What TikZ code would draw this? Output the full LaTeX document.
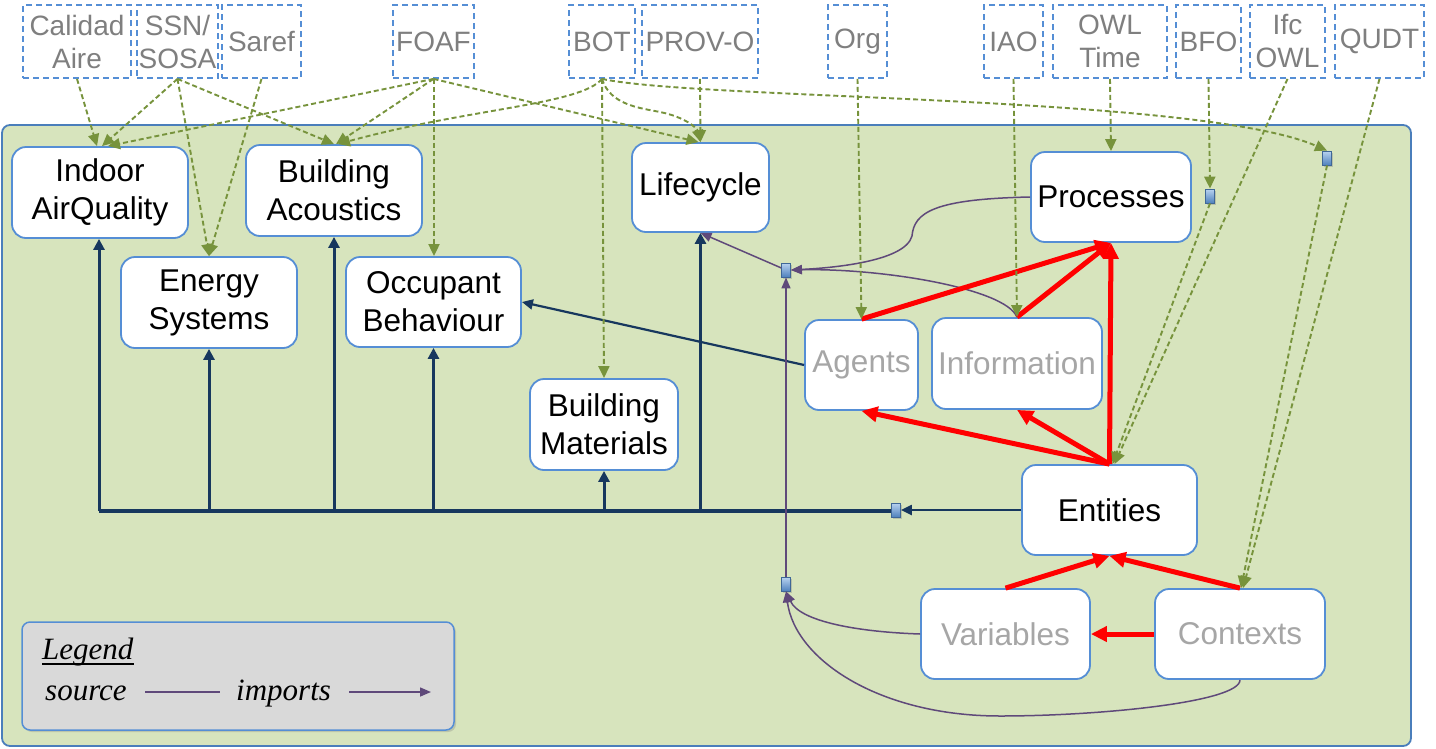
\documentclass[tikz,border=0pt]{standalone}
\usepackage{fontspec}
\setmainfont{Liberation Sans}
\newfontfamily\serifit{Liberation Serif}
\usetikzlibrary{arrows.meta,calc,shadows}
\definecolor{gfill}{HTML}{D7E4BD}
\definecolor{bborder}{HTML}{4A7EBB}
\definecolor{nborder}{HTML}{558ED5}
\definecolor{gdash}{HTML}{77933C}
\definecolor{navy}{HTML}{17375E}
\definecolor{purp}{HTML}{5F497A}
\definecolor{tgray}{HTML}{7F7F7F}
\definecolor{lgray}{HTML}{A6A6A6}
\definecolor{legfill}{HTML}{D9D9D9}
\definecolor{jtop}{HTML}{B9D3F0}
\definecolor{jbot}{HTML}{4F81BD}
\tikzset{
 mbox/.style={draw=nborder, line width=1.8pt, fill=white, rounded corners=14pt, align=center, inner sep=0pt, font=\fontsize{31.5}{38}\selectfont},
 gbox/.style={mbox, text=lgray},
 onto/.style={draw=nborder, line width=1.8pt, dash pattern=on 6pt off 4pt, align=center, inner sep=0pt, minimum height=73pt, text=tgray, font=\fontsize{28}{33}\selectfont},
 junc/.style={draw=jbot!80!black, line width=0.8pt, top color=jtop, bottom color=jbot, minimum width=9pt, minimum height=14pt, inner sep=0pt, drop shadow={opacity=0.35, shadow xshift=1pt, shadow yshift=-1.5pt}},
 gar/.style={draw=gdash, line width=1.9pt, dash pattern=on 5pt off 3pt, -{Triangle[length=12pt,width=11pt]}},
 nar/.style={draw=navy, line width=3pt, -{Triangle[length=11pt,width=11pt]}},
 nthin/.style={draw=navy, line width=2.2pt, -{Triangle[length=11pt,width=10pt]}},
 par/.style={draw=purp, line width=1.5pt, -{Triangle[length=11pt,width=9pt]}},
 pline/.style={draw=purp, line width=1.5pt},
 rar/.style={draw=red, line width=5pt, -{Triangle[length=16pt,width=15pt]}},
 legtext/.style={font=\serifit\itshape\fontsize{31}{36}\selectfont, inner sep=0pt}
}
\begin{document}
\begin{tikzpicture}[x=1pt,y=-1pt]
\useasboundingbox (0,0) rectangle (1436,748);
\fill[white] (0,0) rectangle (1436,748);
% main green area
\draw[fill=gfill, draw=bborder, line width=1.8pt, rounded corners=8pt] (2,125) rectangle (1411,746);

% top ontology boxes
\node[onto, minimum width=108pt] (cal) at (77,41.5) {Calidad\\Aire};
\node[onto, minimum width=81pt] (ssn) at (177.5,41.5) {SSN/\\SOSA};
\node[onto, minimum width=79pt] (sar) at (261.5,41.5) {Saref};
\node[onto, minimum width=81pt] (foa) at (433.5,41.5) {FOAF};
\node[onto, minimum width=66pt] (bot) at (602,41.5) {BOT};
\node[onto, minimum width=116pt] (prv) at (700,41.5) {PROV-O};
\node[onto, minimum width=59pt] (org) at (857.5,41.5) {Org};
\node[onto, minimum width=59pt] (iao) at (1013.5,41.5) {IAO};
\node[onto, minimum width=114pt] (owl) at (1110,41.5) {OWL\\Time};
\node[onto, minimum width=65pt] (bfo) at (1208.5,41.5) {BFO};
\node[onto, minimum width=75pt] (ifc) at (1287.5,41.5) {Ifc\\OWL};
\node[onto, minimum width=89pt] (qud) at (1379.5,41.5) {QUDT};

% modules
\node[mbox, minimum width=176pt, minimum height=91pt] (ind) at (100,192.5) {Indoor\\AirQuality};
\node[mbox, minimum width=176pt, minimum height=91pt] (aco) at (334,190.5) {Building\\Acoustics};
\node[mbox, minimum width=176pt, minimum height=91pt] (ene) at (209,302.5) {Energy\\Systems};
\node[mbox, minimum width=175pt, minimum height=90pt] (occ) at (433.5,302) {Occupant\\Behaviour};
\node[mbox, minimum width=137pt, minimum height=89pt] (lif) at (700.5,187.5) {Lifecycle};
\node[mbox, minimum width=148pt, minimum height=91pt] (mat) at (604,424.5) {Building\\Materials};
\node[mbox, minimum width=160pt, minimum height=90pt] (pro) at (1111,197) {Processes};
\node[gbox, minimum width=113pt, minimum height=90pt] (age) at (861.5,365) {Agents};
\node[gbox, minimum width=170pt, minimum height=91pt] (inf) at (1017,363.5) {Information};
\node[mbox, minimum width=175pt, minimum height=90pt] (ent) at (1109.5,510) {Entities};
\node[gbox, minimum width=169pt, minimum height=90pt] (var) at (1005.5,634) {Variables};
\node[gbox, minimum width=170pt, minimum height=90pt] (con) at (1240,634) {Contexts};

% junctions
\node[junc] (s1) at (786,270) {};
\node[junc] (s2) at (896,510) {};
\node[junc] (s3) at (786,584) {};
\node[junc] (s4) at (1210,196) {};
\node[junc] (s5) at (1327,158) {};

% navy bus
\coordinate (bl) at (99,511);
\draw[navy, line width=3.5pt] (bl) -- (s2.west |- bl);
\draw[nar] (bl) -- (ind.south -| bl);
\draw[nar] (ene.south |- bl) -- (ene.south);
\draw[nar] (aco.south |- bl) -- (aco.south);
\draw[nar] (occ.south |- bl) -- (occ.south);
\draw[nar] (mat.south |- bl) -- (mat.south);
\draw[nar] (lif.south |- bl) -- (lif.south);
\draw[nthin] (ent.west) -- (s2.east);
\draw[nthin] (age.west) -- (occ.east);

% purple imports
\draw[par] (s1) -- (lif.south);
\draw[par] (pro.west) .. controls (935,199) and (914,212) .. (912,236) .. controls (905,262) and (830,268) .. (s1.east);
\draw[par] (inf.north) .. controls (1005,288) and (880,268) .. (s1.east);
\draw[par] (s3.north) -- (s1.south);
\draw[par] (var.west) .. controls (860,632) and (800,622) .. (s3.south);
\draw[par] (con.south) .. controls (1240,702) and (1100,716) .. (1000,716) .. controls (880,716) and (795,660) .. (s3.south);

% red structure
\draw[rar] (age.north) -- (pro.south);
\draw[rar] (inf.north) -- (pro.south);
\draw[rar] (ent.north) -- (pro.south);
\draw[rar] (ent.north) -- (age.south);
\draw[rar] (ent.north) -- (inf.south);
\draw[rar] (var.north) -- (ent.south);
\draw[rar] (con.north) -- (ent.south);
\draw[rar] (con.west) -- (var.east);

% green dashed imports
\draw[gar] (cal.south) -- ($(ind.north)+(-3,0)$);
\draw[gar] (ssn.south) -- ($(ind.north)+(2,0)$);
\draw[gar] (ssn.south) -- (ene.north);
\draw[gar] (ssn.south) -- (aco.north);
\draw[gar] (sar.south) -- (ene.north);
\draw[gar] (foa.south) -- ($(ind.north)+(8,0)$);
\draw[gar] (foa.south) -- ($(aco.north)+(2,0)$);
\draw[gar] ($(foa.south)+(0.5,0)$) -- ($(occ.north)+(0.5,0)$);
\draw[gar] (foa.south) -- ($(lif.north)+(-2,0)$);
\draw[gar] (bot.south) .. controls (580,105) and (470,108) .. ($(aco.north)+(4,0)$);
\draw[gar] (bot.south) .. controls (610,105) and (640,108) .. (660,112) .. controls (685,117) and (697,128) .. (lif.north);
\draw[gar] (bot.south) -- (mat.north);
\draw[gar] (bot.south) .. controls (700,100) and (1200,95) .. (s5.north);
\draw[gar] (prv.south) -- (lif.north);
\draw[gar] (org.south) -- (age.north);
\draw[gar] (iao.south) -- (inf.north);
\draw[gar] (owl.south) -- (pro.north);
\draw[gar] (bfo.south) -- (s4.north);
\draw[gar] (s4.south) -- ($(ent.north)+(3,0)$);
\draw[gar] (ifc.south) -- ($(ent.north)+(5,0)$);
\draw[gar] (s5.south) -- ($(con.north)+(1,0)$);
\draw[gar] (qud.south) -- ($(con.north)+(3,0)$);

% legend
\node[draw=nborder, line width=1.5pt, fill=legfill, rounded corners=8pt, minimum width=432pt, minimum height=108pt, drop shadow={opacity=0.3, shadow xshift=2pt, shadow yshift=-2pt}] (leg) at (238,676) {};
\node[legtext, anchor=base west] (legt) at (42,659) {Legend};
\draw[line width=2pt] ($(legt.base west)+(0,5)$) -- ($(legt.base east)+(0,5)$);
\node[legtext, anchor=base west] (src) at (45,700) {source};
\node[legtext, anchor=base west] (imp) at (236,700) {imports};
\coordinate (la) at (145,692);
\coordinate (lb) at (220,692);
\coordinate (lc) at (349,692);
\coordinate (ld) at (431,692);
\draw[pline] (la) -- (lb);
\draw[par] (lc) -- (ld);
\end{tikzpicture}
\end{document}
